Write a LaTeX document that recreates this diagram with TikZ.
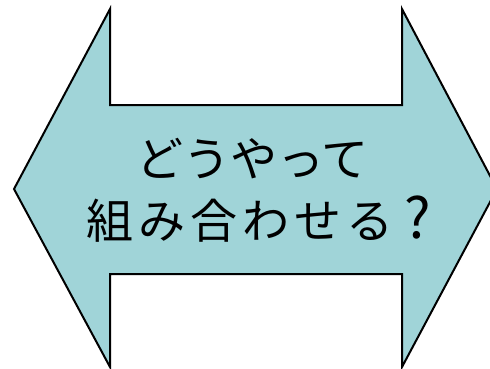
\documentclass[tikz,border=0pt]{standalone}
\usepackage{fontspec}
\newfontfamily\cjk{Noto Sans CJK JP}
\definecolor{arrowfill}{RGB}{160,212,216}
\newcommand{\gk}{\kern5pt}
\begin{document}
\begin{tikzpicture}[x=1pt,y=-1pt,
  arrowshape/.style={fill=arrowfill,draw=black,line width=2pt,line join=miter},
  label/.style={font=\cjk\fontsize{47}{62}\selectfont,align=center,text=black}]
\useasboundingbox (0,0) rectangle (490,369);
\clip (0,0) rectangle (490,369);
\draw[arrowshape] (14,189) -- (110,9) -- (110,105) -- (402,105) -- (402,9)
  -- (497,189) -- (402,367) -- (402,274) -- (110,274) -- (110,367) -- cycle;
\node[label] (t) at (254,190) {\kern-3ptどうやって\\\kern10pt組\gk み\gk 合\gk わ\gk せ\gk る\kern11pt{\fontsize{56}{62}\selectfont ?}};
\end{tikzpicture}
\end{document}
